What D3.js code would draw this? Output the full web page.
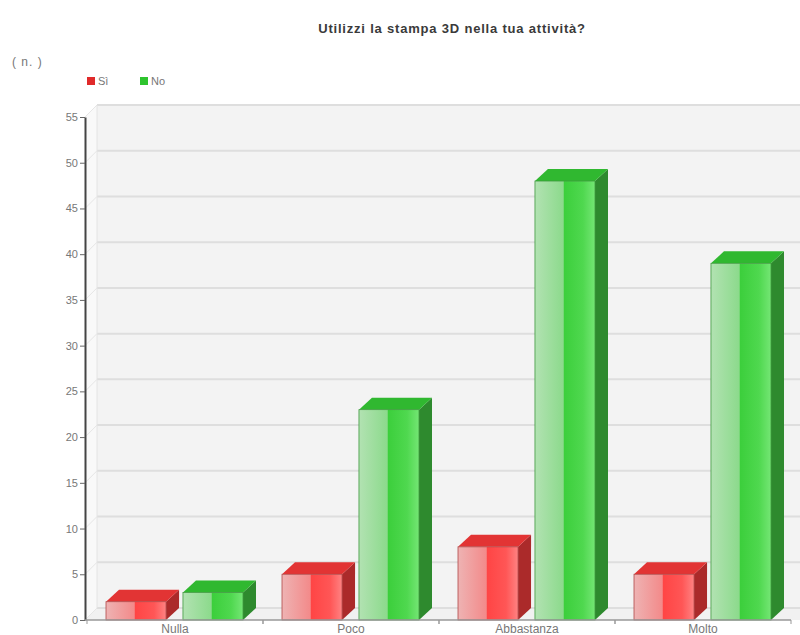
<!DOCTYPE html>
<html><head><meta charset="utf-8">
<script src="https://cdn.jsdelivr.net/npm/d3@7"></script>
<style>
html,body{margin:0;padding:0;background:#fff;}
svg{display:block;font-family:"Liberation Sans",Arial,sans-serif;}
</style></head>
<body><svg id="chart" width="800" height="635"></svg>
<script>
const title = "Utilizzi la stampa 3D nella tua attività?";
const unitLabel = "( n. )";
const categories = ["Nulla", "Poco", "Abbastanza", "Molto"];
const seriesNames = ["Sì", "No"];
const valuesSi = [2, 5, 8, 5];
const valuesNo = [3, 23, 48, 39];
const yTicks = [0, 5, 10, 15, 20, 25, 30, 35, 40, 45, 50, 55];

const svg = d3.select("#chart");
const dx = 13, dy = 12;           // 3D depth
const axisX = 85, baseY = 620, topY = 117;

const y = d3.scaleLinear().domain([0, 55]).range([baseY, topY]);
const x = d3.scaleBand().domain(categories).range([87, 791]).padding(0);
const xs = d3.scaleBand().domain(seriesNames).range([19, 156]).paddingInner(0.22);

const defs = svg.append("defs");
function grad(id, stops) {
  const g = defs.append("linearGradient").attr("id", id).attr("x1", "0").attr("x2", "1").attr("y1", "0").attr("y2", "0");
  stops.forEach(s => g.append("stop").attr("offset", s[0]).attr("stop-color", s[1]));
}
grad("gRed", [["0%", "#eeb3b3"], ["47%", "#f38a8a"], ["49%", "#ff4545"], ["80%", "#ff5656"], ["100%", "#ff8282"]]);
grad("gGreen", [["0%", "#b2e2b2"], ["47%", "#8cda8c"], ["49%", "#3ccf3c"], ["80%", "#4fd84f"], ["100%", "#74e674"]]);

const colors = {
  "Sì": {front: "url(#gRed)", top: "#e23434", side: "#ab2a2a", stroke: "#b04848", legend: "#e02a2a"},
  "No": {front: "url(#gGreen)", top: "#30b830", side: "#2e8a2e", stroke: "#3f9a3f", legend: "#2ec42e"}
};

// Title
svg.append("text").attr("x", 452).attr("y", 33).attr("text-anchor", "middle")
  .attr("font-size", 13).attr("font-weight", "bold").attr("letter-spacing", 0.8).attr("fill", "#3a3a3a").text(title);
svg.append("text").attr("x", 12).attr("y", 66).attr("font-size", 12).attr("letter-spacing", 1).attr("fill", "#777").text(unitLabel);

// Legend
const leg = svg.append("g");
[["Sì", 87], ["No", 140]].forEach(([n, lx]) => {
  leg.append("rect").attr("x", lx).attr("y", 77).attr("width", 8).attr("height", 8).attr("fill", colors[n].legend);
  leg.append("text").attr("x", lx + 11).attr("y", 85).attr("font-size", 11).attr("fill", "#777").text(n);
});

// Back wall
const rightX = 800;
svg.append("rect").attr("x", axisX + dx - 1).attr("y", topY - dy).attr("width", rightX - axisX - dx + 1).attr("height", baseY - topY)
  .attr("fill", "#f3f3f3");
svg.append("path").attr("d", `M${axisX},${topY}L${axisX + dx - 1},${topY - dy}L${axisX + dx - 1},${baseY - dy}L${axisX},${baseY}Z`).attr("fill", "#f9f9f9");
svg.append("path").attr("d", `M${axisX},${baseY}L${axisX + dx - 1},${baseY - dy}L${rightX},${baseY - dy}L${rightX},${baseY}Z`).attr("fill", "#f1f1f1");

// Grid lines
const grid = svg.append("g");
yTicks.forEach(t => {
  const yy = y(t) - dy;
  grid.append("line").attr("x1", axisX + dx - 1).attr("x2", rightX).attr("y1", yy).attr("y2", yy)
    .attr("stroke", "#dedede").attr("stroke-width", 2);
  grid.append("line").attr("x1", axisX).attr("y1", y(t)).attr("x2", axisX + dx - 1).attr("y2", yy)
    .attr("stroke", "#e6e6e6").attr("stroke-width", 1);
});
grid.append("line").attr("x1", axisX + dx - 1).attr("x2", axisX + dx - 1).attr("y1", topY - dy).attr("y2", baseY - dy)
  .attr("stroke", "#e4e4e4").attr("stroke-width", 1);

// Bars
const data = [];
categories.forEach((c, i) => {
  data.push({cat: c, s: "Sì", v: valuesSi[i]});
  data.push({cat: c, s: "No", v: valuesNo[i]});
});
const bars = svg.append("g").selectAll("g").data(data).join("g");
bars.each(function(d) {
  const g = d3.select(this);
  const x0 = x(d.cat) + xs(d.s), w = xs.bandwidth(), yt = y(d.v), yb = y(0);
  const col = colors[d.s];
  g.append("path").attr("d", `M${x0 + w},${yt}L${x0 + w + dx},${yt - dy}L${x0 + w + dx},${yb - dy}L${x0 + w},${yb}Z`).attr("fill", col.side);
  g.append("path").attr("d", `M${x0},${yt}L${x0 + dx},${yt - dy}L${x0 + w + dx},${yt - dy}L${x0 + w},${yt}Z`).attr("fill", col.top);
  g.append("rect").attr("x", x0).attr("y", yt).attr("width", w).attr("height", yb - yt)
    .attr("fill", col.front).attr("stroke", col.stroke).attr("stroke-width", 0.8);
});

// Y axis
const yAxis = d3.axisLeft(y).tickValues(yTicks).tickSize(5).tickSizeOuter(0);
const ya = svg.append("g").attr("transform", `translate(${axisX},0)`).call(yAxis);
ya.select(".domain").attr("stroke", "#444").attr("stroke-width", 2);
ya.selectAll(".tick line").attr("stroke", "#666");
ya.selectAll(".tick text").attr("font-size", 11).attr("fill", "#777").attr("font-family", "Liberation Sans, Arial, sans-serif").attr("x", -7);

// X axis
const xAxis = d3.axisBottom(x).tickSize(0).tickSizeOuter(0);
const xa = svg.append("g").attr("transform", `translate(0,${baseY})`).call(xAxis);
xa.select(".domain").attr("stroke", "#999").attr("stroke-width", 1.5).attr("d", `M${axisX},0H${x.range()[1]}`);
xa.selectAll(".tick text").attr("font-size", 12).attr("fill", "#777").attr("font-family", "Liberation Sans, Arial, sans-serif").attr("dy", "0.6em").attr("y", 6);
const sep = svg.append("g");
categories.forEach(c => {
  [x(c), x(c) + x.bandwidth()].forEach(px => {
    sep.append("line").attr("x1", px).attr("x2", px).attr("y1", baseY).attr("y2", baseY + 4).attr("stroke", "#999");
  });
});
</script></body></html>
